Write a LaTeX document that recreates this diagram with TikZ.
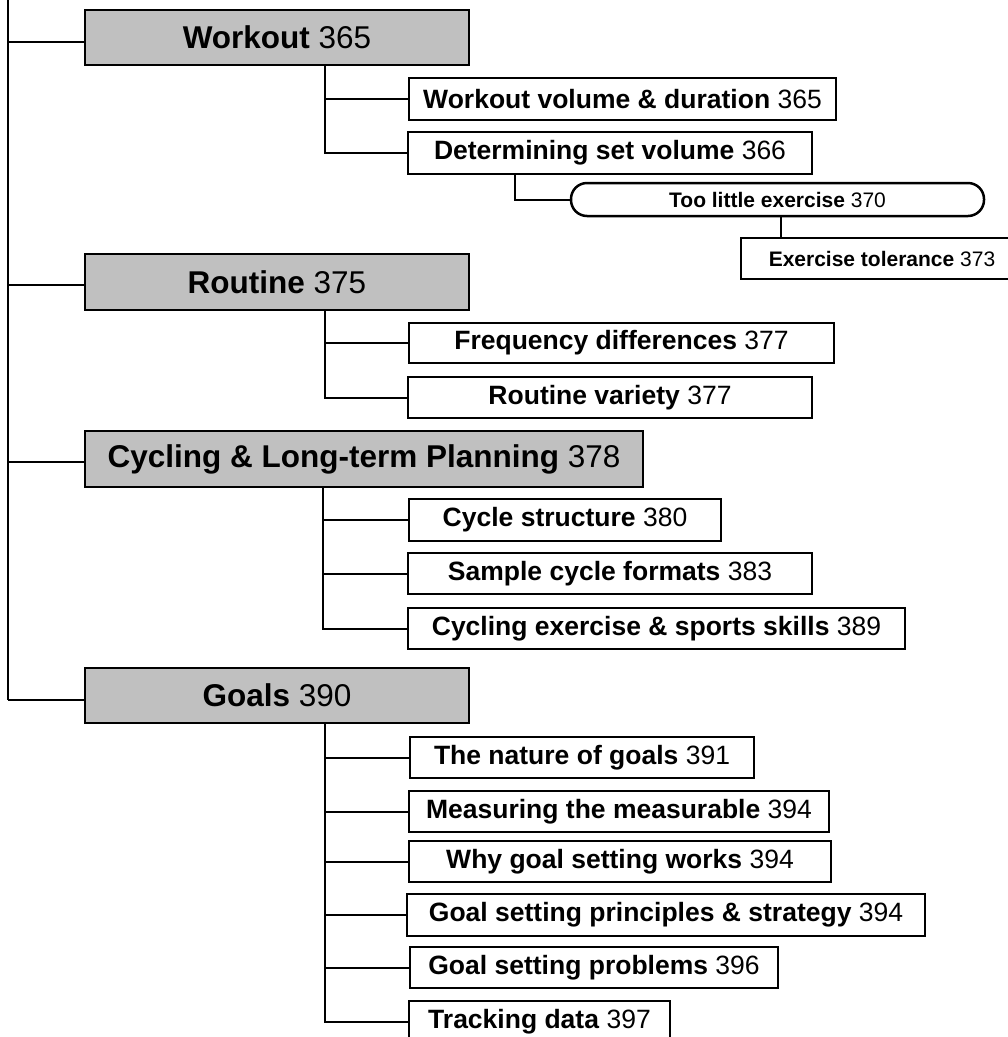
\documentclass[tikz,border=0pt]{standalone}
\usepackage{fontspec}
\setmainfont{Liberation Sans}
\definecolor{boxgray}{RGB}{192,192,192}
\tikzset{
  mainbox/.style={draw, line width=2.5pt, fill=boxgray, inner sep=0pt, anchor=center,
    font=\fontsize{31.5}{36}\selectfont},
  subbox/.style={draw, line width=2.5pt, fill=white, inner sep=0pt, anchor=center,
    font=\fontsize{26.5}{30}\selectfont},
  smallbox/.style={draw, line width=2.5pt, fill=white, inner sep=0pt, anchor=center,
    font=\fontsize{21}{25}\selectfont},
  pillbox/.style={smallbox, rounded corners=16pt},
  conn/.style={line width=2pt},
}
\newcommand{\bx}[4]{minimum width=#1pt, minimum height=#2pt}
\begin{document}
\begin{tikzpicture}[x=1pt,y=-1pt]
\useasboundingbox (0,0) rectangle (1008,1037);
\clip (0,0) rectangle (1008,1037);
\fill[white] (0,0) rectangle (1008,1037);

% main boxes
\node[mainbox, minimum width=384pt, minimum height=55pt] (wk) at (277,37.5) {\textbf{Workout} 365};
\node[mainbox, minimum width=384pt, minimum height=56pt] (rt) at (277,282) {\textbf{Routine} 375};
\node[mainbox, minimum width=558pt, minimum height=56pt] (cy) at (364,459) {\textbf{Cycling \& Long-term Planning} 378};
\node[mainbox, minimum width=384pt, minimum height=55pt] (gl) at (277,695.5) {\textbf{Goals} 390};

% workout children
\node[subbox, minimum width=427pt, minimum height=42pt] (wv) at (622.5,99) {\textbf{Workout volume \& duration} 365};
\node[subbox, minimum width=404pt, minimum height=42pt] (ds) at (610,153) {\textbf{Determining set volume} 366};
\node[pillbox, minimum width=413pt, minimum height=33pt] (tl) at (777.5,199.5) {\textbf{Too little exercise} 370};
\node[smallbox, minimum width=282pt, minimum height=41pt] (et) at (882,258.5) {\textbf{Exercise tolerance} 373};

% routine children
\node[subbox, minimum width=425pt, minimum height=40pt] (fd) at (621.5,343) {\textbf{Frequency differences} 377};
\node[subbox, minimum width=404pt, minimum height=41pt] (rv) at (610,397.5) {\textbf{Routine variety} 377};

% cycling children
\node[subbox, minimum width=312pt, minimum height=42pt] (cs) at (565,520) {\textbf{Cycle structure} 380};
\node[subbox, minimum width=404pt, minimum height=41pt] (sc) at (610,573.5) {\textbf{Sample cycle formats} 383};
\node[subbox, minimum width=497pt, minimum height=41pt] (ce) at (656.5,628.5) {\textbf{Cycling exercise \& sports skills} 389};

% goals children
\node[subbox, minimum width=344pt, minimum height=41pt] (ng) at (582,757.5) {\textbf{The nature of goals} 391};
\node[subbox, minimum width=420pt, minimum height=41pt] (mm) at (619,811.5) {\textbf{Measuring the measurable} 394};
\node[subbox, minimum width=422pt, minimum height=41pt] (wg) at (620,861.5) {\textbf{Why goal setting works} 394};
\node[subbox, minimum width=518pt, minimum height=42pt] (gp) at (666,915) {\textbf{Goal setting principles \& strategy} 394};
\node[subbox, minimum width=368pt, minimum height=41pt] (gs) at (594,967.5) {\textbf{Goal setting problems} 396};
\node[subbox, minimum width=261pt, minimum height=41pt] (td) at (539.5,1021.5) {\textbf{Tracking data} 397};

% spine
\coordinate (sptop) at (8,-5);
\coordinate (c1) at (8,42);
\coordinate (c2) at (8,285);
\coordinate (c3) at (8,462);
\coordinate (c4) at (8,700);
\draw[conn] (sptop) -- (c4);
\draw[conn] (c1) -- (c1 -| wk.west);
\draw[conn] (c2) -- (c2 -| rt.west);
\draw[conn] (c3) -- (c3 -| cy.west);
\draw[conn] (c4) -- (c4 -| gl.west);

% workout trunk
\coordinate (tw) at (wk.south -| 325,0);
\draw[conn] (tw) |- (wv.west);
\draw[conn] (tw) |- (ds.west);
\draw[conn] (ds.south -| 515,0) |- (tl.west);
\draw[conn] (tl.south -| 781,0) -- (et.north -| 781,0);

% routine trunk
\coordinate (tr) at (rt.south -| 325,0);
\draw[conn] (tr) |- (fd.west);
\draw[conn] (tr) |- (rv.west);

% cycling trunk
\coordinate (tc) at (cy.south -| 323,0);
\draw[conn] (tc) |- (cs.west);
\draw[conn] (tc) |- (sc.west);
\draw[conn] (tc) |- (ce.west);

% goals trunk
\coordinate (tg) at (gl.south -| 325,0);
\draw[conn] (tg) |- (ng.west);
\draw[conn] (tg) |- (mm.west);
\draw[conn] (tg) |- (wg.west);
\draw[conn] (tg) |- (gp.west);
\draw[conn] (tg) |- (gs.west);
\draw[conn] (tg) |- (td.west);
\end{tikzpicture}
\end{document}
